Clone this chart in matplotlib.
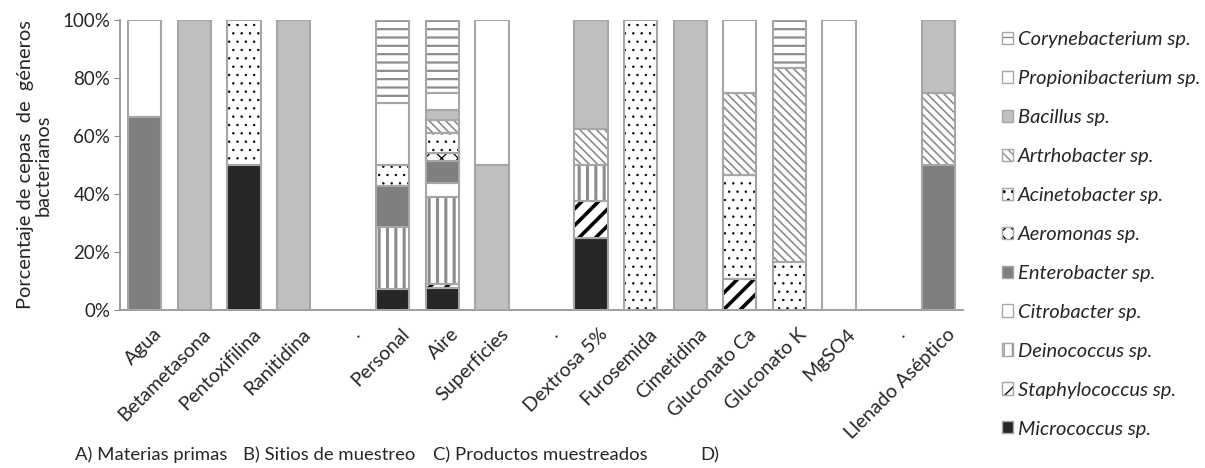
import matplotlib
matplotlib.use("Agg")
import matplotlib.pyplot as plt
from matplotlib.patches import Patch
import matplotlib.transforms as mtransforms
import numpy as np

plt.rcParams['font.family'] = ['Lato', 'DejaVu Sans']

categories = ["Agua", "Betametasona", "Pentoxifilina", "Ranitidina", ".",
              "Personal", "Aire", "Superficies", ".",
              "Dextrosa 5%", "Furosemida", "Cimetidina", "Gluconato Ca",
              "Gluconato K", "MgSO4", ".", "Llenado Aséptico"]

micrococcus       = [0, 0, 50, 0, 0, 7.1, 7.5, 0, 0, 25, 0, 0, 0, 0, 0, 0, 0]
staphylococcus    = [0, 0, 0, 0, 0, 0, 1.5, 0, 0, 12.5, 0, 0, 10.7, 0, 0, 0, 0]
deinococcus       = [0, 0, 0, 0, 0, 21.4, 30, 0, 0, 12.5, 0, 0, 0, 0, 0, 0, 0]
citrobacter       = [0, 0, 0, 0, 0, 0, 4.8, 0, 0, 0, 0, 0, 0, 0, 0, 0, 0]
enterobacter      = [66.7, 0, 0, 0, 0, 14.3, 7.6, 0, 0, 0, 0, 0, 0, 0, 0, 0, 50]
aeromonas         = [0, 0, 0, 0, 0, 0, 2.7, 0, 0, 0, 0, 0, 0, 0, 0, 0, 0]
acinetobacter     = [0, 0, 50, 0, 0, 7.1, 6.9, 0, 0, 0, 100, 0, 35.7, 16.7, 0, 0, 0]
artrhobacter      = [0, 0, 0, 0, 0, 0, 4.5, 0, 0, 12.5, 0, 0, 28.6, 66.6, 0, 0, 25]
bacillus          = [0, 100, 0, 100, 0, 0, 3.5, 50, 0, 37.5, 0, 100, 0, 0, 0, 0, 25]
propionibacterium = [33.3, 0, 0, 0, 0, 21.4, 5.8, 50, 0, 0, 0, 0, 25, 0, 100, 0, 0]
corynebacterium   = [0, 0, 0, 0, 0, 28.7, 25.2, 0, 0, 0, 0, 0, 0, 16.7, 0, 0, 0]

group_labels = ["A) Materias primas", "B) Sitios de muestreo",
                "C) Productos muestreados", "D)"]

# (label, values, facecolor, hatch, hatchcolor, hatch linewidth)
series = [
    ("Micrococcus sp.", micrococcus, "#262626", None, "#262626", 1.0),
    ("Staphylococcus sp.", staphylococcus, "white", "//", "black", 2.6),
    ("Deinococcus sp.", deinococcus, "white", "||", "#8c8c8c", 2.2),
    ("Citrobacter sp.", citrobacter, "white", None, "white", 1.0),
    ("Enterobacter sp.", enterobacter, "#7f7f7f", None, "#7f7f7f", 1.0),
    ("Aeromonas sp.", aeromonas, "white", "xx", "black", 0.9),
    ("Acinetobacter sp.", acinetobacter, "white", "..", "black", 0.5),
    ("Artrhobacter sp.", artrhobacter, "white", "\\\\\\\\", "#8c8c8c", 1.2),
    ("Bacillus sp.", bacillus, "#bfbfbf", None, "#bfbfbf", 1.0),
    ("Propionibacterium sp.", propionibacterium, "white", None, "white", 1.0),
    ("Corynebacterium sp.", corynebacterium, "white", "--", "#8c8c8c", 1.6),
]

EDGE = "#a6a6a6"
TXT = "#262626"

fig = plt.figure(figsize=(12.05, 4.68), dpi=100)
ax = fig.add_axes([120/1205, 1-310/468, (963-120)/1205, 290/468])

x = np.arange(len(categories))
width = 0.67
bottom = np.zeros(len(categories))
handles = []
for label, vals, fc, hatch, hc, hlw in series:
    v = np.array(vals, dtype=float)
    mask = v > 0
    if mask.any():
        bars = ax.bar(x[mask], v[mask], width, bottom=bottom[mask], color=fc,
                      hatch=hatch, edgecolor=hc, linewidth=0, zorder=2)
        for b in bars:
            try:
                b.set_hatch_linewidth(hlw)
            except AttributeError:
                pass
        ax.bar(x[mask], v[mask], width, bottom=bottom[mask], fill=False,
               edgecolor=EDGE, linewidth=1.5, zorder=3)
    bottom += v
    h = Patch(facecolor=fc, hatch=hatch, edgecolor=hc, linewidth=0)
    try:
        h.set_hatch_linewidth(min(hlw, 1.0))
    except AttributeError:
        pass
    outline = Patch(fill=False, edgecolor=EDGE, linewidth=1.0)
    handles.append(((h, outline), label))

ax.set_xlim(-0.5, len(categories) - 0.5)
ax.set_ylim(0, 100)
ax.set_yticks(np.arange(0, 101, 20))
ax.set_yticklabels([f"{t}%" for t in range(0, 101, 20)], fontsize=13.5, color=TXT)
ax.set_xticks(x)
ax.set_xticklabels(categories, rotation=45, ha="right", rotation_mode="anchor",
                   fontsize=14, color=TXT)
ax.tick_params(axis="x", length=0, pad=11)
ax.tick_params(axis="y", length=4, color="#8c8c8c", pad=3)
offset = mtransforms.ScaledTranslation(8/100, 0, fig.dpi_scale_trans)
for lab in ax.get_xticklabels():
    lab.set_transform(lab.get_transform() + offset)
for s in ["top", "right"]:
    ax.spines[s].set_visible(False)
for s in ["left", "bottom"]:
    ax.spines[s].set_color("#8c8c8c")
    ax.spines[s].set_linewidth(1.2)

ax.set_ylabel("Porcentaje de cepas  de  géneros\nbacterianos", fontsize=14.4,
              color=TXT, labelpad=8, linespacing=1.0)

hs = [h for h, _ in handles][::-1]
ls = [l for _, l in handles][::-1]
leg = fig.legend(hs, ls, loc="upper left", bbox_to_anchor=(1002/1205, 1-31/468),
                 frameon=False, prop={"size": 14.5, "style": "italic"},
                 handlelength=0.55, handleheight=0.55, handletextpad=0.25,
                 labelspacing=1.09, borderaxespad=0, borderpad=0)
for t in leg.get_texts():
    t.set_color(TXT)

gx = [75, 243, 433, 700]
for lab, gxx in zip(group_labels, gx):
    fig.text(gxx/1205, 1-455/468, lab, fontsize=13.3, color=TXT,
             ha="left", va="center")

fig.savefig("out.png", dpi=100)
